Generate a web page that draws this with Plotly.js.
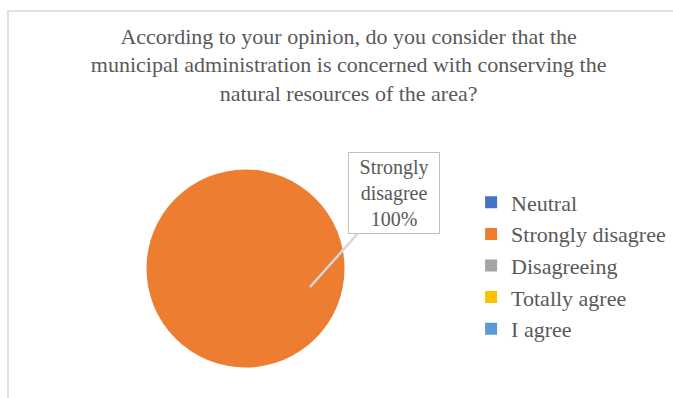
<!DOCTYPE html>
<html>
<head>
<meta charset="utf-8">
<script src="https://cdn.plot.ly/plotly-3.0.1.min.js"></script>
<style>
  html, body { margin: 0; padding: 0; background: #ffffff; }
  #wrap { position: relative; width: 673px; height: 398px; overflow: hidden; }
  #chart { position: absolute; left: 0; top: 0; width: 673px; height: 398px; }
  #frame { position: absolute; left: 7px; top: 10px; width: 680px; height: 400px;
           border-top: 2px solid #e2e2e2; border-left: 2px solid #e2e2e2; pointer-events: none; }
  #fontwarm { position: absolute; left: -9999px; top: 0; font-family: 'Liberation Serif'; font-size: 22px; }
</style>
</head>
<body>
<div id="fontwarm">Strongly disagree 100%</div>
<div id="wrap">
  <div id="chart"></div>
  <div id="frame"></div>
</div>
<script>
// ---- data ----
const titleText = "According to your opinion, do you consider that the<br>municipal administration is concerned with conserving the<br>natural resources of the area?";
const labels = ["Neutral", "Strongly disagree", "Disagreeing", "Totally agree", "I agree"];
const values = [0, 100, 0, 0, 0];
const colors = ["#4472C4", "#ED7D31", "#A5A5A5", "#FFC000", "#5B9BD5"];

// ---- derived callout label ----
const total = values.reduce((a, b) => a + b, 0);
const maxIdx = values.indexOf(Math.max(...values));
const pct = Math.round(values[maxIdx] / total * 100) + "%";
const calloutText = labels[maxIdx].split(" ").join("<br>") + "<br>" + pct;

const fam = "Liberation Serif";
const txtColor = "#595959";

const trace = {
  type: "pie",
  labels: labels,
  values: values,
  marker: { colors: colors, line: { width: 0 } },
  sort: false,
  direction: "clockwise",
  textinfo: "none",
  hoverinfo: "label+percent",
  domain: { x: [0.2169, 0.5126], y: [0.0766, 0.5741] }
};

const layout = {
  width: 673,
  height: 398,
  margin: { l: 0, r: 0, t: 0, b: 0 },
  font: { family: fam, size: 22, color: txtColor },
  title: {
    text: titleText,
    font: { family: fam, size: 22, color: txtColor },
    x: 0.518, xanchor: "center",
    y: 0.89, yanchor: "top"
  },
  showlegend: true,
  legend: {
    x: 0.700, xanchor: "left",
    y: 0.544, yanchor: "top",
    font: { family: fam, size: 22, color: txtColor },
    itemwidth: 30,
    traceorder: "normal"
  },
  annotations: [{
    xref: "paper", yref: "paper",
    x: 310 / 673, y: 1 - 287 / 398,
    showarrow: true, arrowhead: 0, arrowwidth: 2.5, arrowcolor: "#d6d6d6",
    ax: 84, ay: -94,
    text: calloutText,
    font: { family: fam, size: 20, color: txtColor },
    align: "center",
    width: 84,
    bgcolor: "#ffffff",
    bordercolor: "#bfbfbf",
    borderwidth: 1,
    borderpad: 3
  }]
};

function draw() {
  return Plotly.newPlot("chart", [trace], layout, { displayModeBar: false }).then(gd => {
    document.body.setAttribute("data-ready", "1");
    return gd;
  });
}

const fontReady = (document.fonts && document.fonts.load)
  ? document.fonts.load('22px "Liberation Serif"').catch(() => null)
  : Promise.resolve();
fontReady.then(draw, draw);
</script>
</body>
</html>
